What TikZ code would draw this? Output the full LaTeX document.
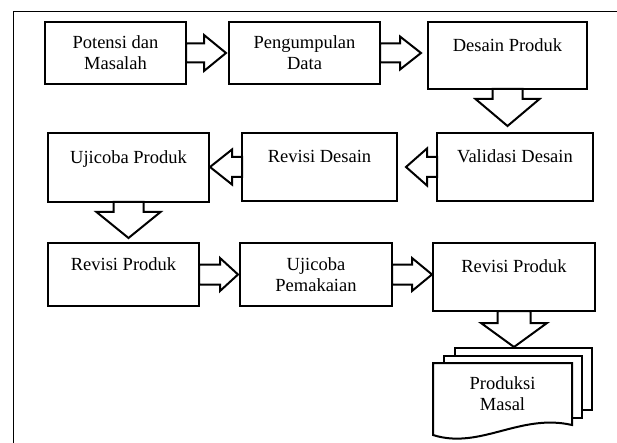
\documentclass[tikz,border=0pt]{standalone}
\usepackage{fontspec}
\setmainfont{Liberation Serif}
\usetikzlibrary{calc,backgrounds}

\begin{document}
\begin{tikzpicture}[
    x=1pt, y=-1pt,
    box/.style={rectangle, draw=black, line width=2pt, outer sep=0pt, inner sep=0pt, align=center, font=\fontsize{18.5}{21}\selectfont, execute at begin node={\rule{0pt}{18pt}}},
    docpage/.style={rectangle, draw=none, outer sep=0pt, inner sep=0pt, minimum width=139, minimum height=62, align=center, font=\fontsize{18.5}{21}\selectfont},
    blockarrow/.style={draw=black, line width=2pt, line join=miter},
    pageline/.style={draw=black, line width=2pt, fill=white},
    frameline/.style={draw=black, line width=1pt},
]

\useasboundingbox (0,0) rectangle (617,443);
\draw[frameline] (13,443) -- (13,12) -- (617,12);

% --- ROW 1 (y=53) ---
\node[box, minimum width=141, minimum height=62] (potensi) at (115.5, 53) {Potensi dan\\Masalah};
\node[box, minimum width=151, minimum height=62] (data)    at (304.5, 53) {Pengumpulan\\Data};
\node[box, minimum width=159, minimum height=67] (desain)  at (507.5, 55.5) {Desain Produk\\\mbox{}};

% --- ROW 2 (y=167) ---
\node[box, minimum width=156, minimum height=68] (validasi)  at (515, 167) {Validasi Desain\\\mbox{}};
\node[box, minimum width=155, minimum height=68] (revdesain) at (319.5, 167) {Revisi Desain\\\mbox{}};
\node[box, minimum width=161, minimum height=69] (ujiproduk) at (128.5, 167.5) {Ujicoba Produk\\\mbox{}};

% --- ROW 3 (y=275) ---
\node[box, minimum width=151, minimum height=63] (revproduk) at (123.5, 274.5) {Revisi Produk\\\mbox{}};
\node[box, minimum width=152, minimum height=63] (ujipakai)  at (316, 274.5) {Ujicoba\\Pemakaian};
\node[box, minimum width=162, minimum height=68] (revakhir)  at (514, 277) {Revisi Produk\\\mbox{}};

% --- ROW 4: MULTI DOCUMENT ---
\node[docpage] (masal) at (502.5, 394) {Produksi\\Masal};

\begin{scope}[on background layer]
\draw[pageline] ($(masal.north west)+(22,-15)$) rectangle ($(masal.south east)+(20,-15)$);
\draw[pageline] ($(masal.north west)+(11,-7)$) rectangle ($(masal.south east)+(10,-7)$);
\draw[pageline] ($(masal.south west)+(0,10)$) -- (masal.north west) -- (masal.north east) -- (masal.south east)
    .. controls ($(masal.south east)+(-52,-12)$) and ($(masal.south west)+(47,25)$) .. ($(masal.south west)+(0,10)$) -- cycle;
\end{scope}

% =======================================================================
% BLOCK ARROWS
% =======================================================================

% --- row 1: left to right ---
\draw[blockarrow] (potensi.east) ++(0,-9.5) -- ++(18,0) -- ++(0,-8.5)
    -- ($(data.west)+(-3,0)$) -- ++(-22,18) -- ++(0,-8.5) -- ++(-18,0) -- cycle;
\draw[blockarrow] (data.east) ++(0,-9.5) -- ++(20,0) -- ++(0,-7)
    -- ($(desain.west |- data.east)+(-7,0)$) -- ++(-21,16.5) -- ++(0,-7) -- ++(-20,0) -- cycle;

% --- down to row 2 ---
\draw[blockarrow] (desain.south) ++(-15,0) -- ++(0,10) -- ++(-17,0)
    -- ($(desain.south |- validasi.north)+(0,-7)$) -- ++(32,-27) -- ++(-17,0) -- ++(0,-10) -- cycle;

% --- row 2: right to left ---
\draw[blockarrow] (validasi.west) ++(0,-10) -- ++(-10,0) -- ++(0,-8.5)
    -- ($(revdesain.east |- validasi.west)+(9,0)$) -- ++(21,18.5) -- ++(0,-8.5) -- ++(10,0) -- cycle;
\draw[blockarrow] (revdesain.west) ++(0,-10) -- ++(-10,0) -- ++(0,-7.5)
    -- ($(ujiproduk.east |- revdesain.west)+(1,0)$) -- ++(22,17.5) -- ++(0,-7.5) -- ++(10,0) -- cycle;

% --- down to row 3 ---
\draw[blockarrow] (ujiproduk.south) ++(-15,0) -- ++(0,10) -- ++(-17,0)
    -- ($(ujiproduk.south |- revproduk.north)+(0,-5)$) -- ++(32,-26) -- ++(-17,0) -- ++(0,-10) -- cycle;

% --- row 3: left to right ---
\draw[blockarrow] (revproduk.east) ++(0,-10) -- ++(21,0) -- ++(0,-6.5)
    -- ($(ujipakai.west)+(-2,0)$) -- ++(-18,16.5) -- ++(0,-6.5) -- ++(-21,0) -- cycle;
\draw[blockarrow] (ujipakai.east) ++(0,-10) -- ++(20,0) -- ++(0,-6.5)
    -- ($(revakhir.west |- ujipakai.east)+(-1,0)$) -- ++(-20,16.5) -- ++(0,-6.5) -- ++(-20,0) -- cycle;

% --- down to documents ---
\draw[blockarrow] (revakhir.south) ++(-16.5,0) -- ++(0,12) -- ++(-16.5,0)
    -- ($(revakhir.south |- masal.north)+(0,-16)$) -- ++(33,-24) -- ++(-16.5,0) -- ++(0,-12) -- cycle;

\end{tikzpicture}
\end{document}
